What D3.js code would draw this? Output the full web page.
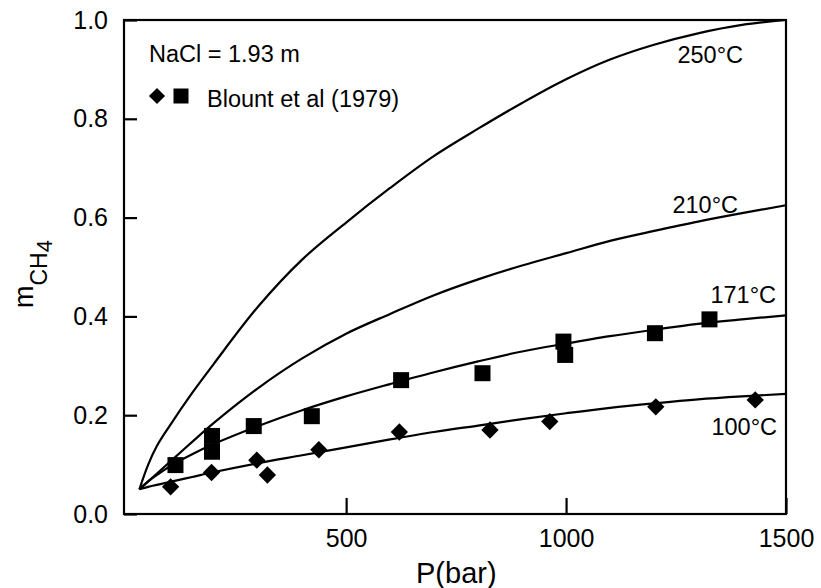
<!DOCTYPE html>
<html>
<head>
<meta charset="utf-8">
<script src="https://cdn.jsdelivr.net/npm/d3@7"></script>
<style>
  html, body { margin: 0; padding: 0; background: #fff; }
  svg { display: block; font-family: "Liberation Sans", Arial, Helvetica, sans-serif; }
</style>
</head>
<body>
<svg id="chart" width="821" height="588"></svg>
<script>
// ---- Data ----
const pressureGrid = [30, 50, 70, 100, 150, 200, 300, 400, 500, 600, 700, 800, 900, 1000, 1100, 1200, 1300, 1400, 1500];
const m250 = [0.05, 0.10, 0.138, 0.18, 0.245, 0.305, 0.42, 0.515, 0.59, 0.66, 0.725, 0.78, 0.832, 0.88, 0.92, 0.95, 0.973, 0.99, 1.0];
const m210 = [0.05, 0.066, 0.082, 0.106, 0.146, 0.185, 0.255, 0.315, 0.365, 0.405, 0.443, 0.475, 0.503, 0.528, 0.553, 0.573, 0.592, 0.609, 0.625];
const m171 = [0.05, 0.066, 0.079, 0.097, 0.121, 0.142, 0.178, 0.21, 0.238, 0.263, 0.287, 0.309, 0.329, 0.345, 0.36, 0.373, 0.385, 0.394, 0.402];
const m100 = [0.05, 0.055, 0.059, 0.065, 0.075, 0.085, 0.103, 0.119, 0.135, 0.151, 0.166, 0.179, 0.192, 0.204, 0.215, 0.224, 0.232, 0.238, 0.243];

// Blount et al (1979) measurements
const diamondP = [101, 194, 297, 321, 438, 621, 827, 963, 1204, 1430];
const diamondM = [0.055, 0.084, 0.109, 0.079, 0.130, 0.166, 0.170, 0.187, 0.217, 0.231];
const squareP = [112, 195, 195, 290, 422, 625, 810, 994, 998, 1202, 1326];
const squareM = [0.099, 0.158, 0.126, 0.178, 0.198, 0.271, 0.285, 0.349, 0.322, 0.366, 0.394];

const curveLabels = ["250°C", "210°C", "171°C", "100°C"];
const xTicks = [500, 1000, 1500];
const yTicks = [0, 0.2, 0.4, 0.6, 0.8, 1.0];
const noteText = "NaCl = 1.93 m";
const legendText = "Blount et al (1979)";

// ---- Layout ----
const svg = d3.select("#chart");
const x = d3.scaleLinear().domain([-5, 1500]).range([124, 786]);
const y = d3.scaleLinear().domain([0, 1]).range([514, 20]);

// frame
svg.append("rect")
  .attr("x", x(-5)).attr("y", y(1))
  .attr("width", x(1500) - x(-5)).attr("height", y(0) - y(1))
  .attr("fill", "none").attr("stroke", "#000").attr("stroke-width", 2.2);

// y axis (inward ticks)
const yAxis = d3.axisLeft(y).tickValues(yTicks).tickSize(-13).tickPadding(16)
  .tickFormat(d3.format(".1f"));
const gy = svg.append("g").attr("transform", `translate(${x(-5)},0)`).call(yAxis);
gy.select(".domain").remove();
gy.selectAll(".tick line").attr("stroke", "#000").attr("stroke-width", 2.2);
gy.selectAll(".tick text").attr("font-size", 25).attr("fill", "#000")
  .attr("font-family", "Liberation Sans, Arial, sans-serif");

// x axis (inward ticks)
const xAxis = d3.axisBottom(x).tickValues(xTicks).tickSize(-16).tickPadding(15)
  .tickFormat(d3.format("d"));
const gx = svg.append("g").attr("transform", `translate(0,${y(0)})`).call(xAxis);
gx.select(".domain").remove();
gx.selectAll(".tick line").attr("stroke", "#000").attr("stroke-width", 2.2);
gx.selectAll(".tick text").attr("font-size", 25).attr("fill", "#000")
  .attr("font-family", "Liberation Sans, Arial, sans-serif");

// axis titles
svg.append("text").attr("x", 416).attr("y", 583)
  .attr("font-size", 29).attr("fill", "#000").text("P(bar)");

const yl = svg.append("text").attr("transform", "translate(33,308) rotate(-90)")
  .attr("fill", "#000");
yl.append("tspan").attr("font-size", 27).text("m");
yl.append("tspan").attr("font-size", 23).attr("dy", 14).text("CH");
yl.append("tspan").attr("font-size", 22).attr("dy", 5).text("4");

// curves
const line = d3.line()
  .x((d, i) => x(pressureGrid[i]))
  .y(d => y(d))
  .curve(d3.curveCatmullRom.alpha(0.5));

[m250, m210, m171, m100].forEach(series => {
  svg.append("path").datum(series)
    .attr("d", line)
    .attr("fill", "none").attr("stroke", "#000").attr("stroke-width", 2.2)
    .attr("stroke-linejoin", "round");
});

// curve labels
const labelPos = [[743, 63], [738, 213], [776, 303], [777, 435]];
curveLabels.forEach((t, i) => {
  svg.append("text").attr("x", labelPos[i][0]).attr("y", labelPos[i][1])
    .attr("text-anchor", "end").attr("font-size", 23.5).attr("fill", "#000").text(t);
});

// markers
const diamond = d3.symbol().type(d3.symbolSquare).size(150);
const square = d3.symbol().type(d3.symbolSquare).size(256);

svg.append("g").selectAll("path").data(diamondP).join("path")
  .attr("d", diamond)
  .attr("transform", (d, i) => `translate(${x(d)},${y(diamondM[i])}) rotate(45)`)
  .attr("fill", "#000");

svg.append("g").selectAll("path").data(squareP).join("path")
  .attr("d", square)
  .attr("transform", (d, i) => `translate(${x(d)},${y(squareM[i])})`)
  .attr("fill", "#000");

// annotations / legend
svg.append("text").attr("x", 149).attr("y", 62)
  .attr("font-size", 23.5).attr("fill", "#000").text(noteText);
svg.append("path").attr("d", d3.symbol().type(d3.symbolSquare).size(130))
  .attr("transform", "translate(157,96) rotate(45)").attr("fill", "#000");
svg.append("path").attr("d", d3.symbol().type(d3.symbolSquare).size(225))
  .attr("transform", "translate(181,96)").attr("fill", "#000");
svg.append("text").attr("x", 207).attr("y", 107)
  .attr("font-size", 23.5).attr("fill", "#000").text(legendText);
</script>
</body>
</html>
